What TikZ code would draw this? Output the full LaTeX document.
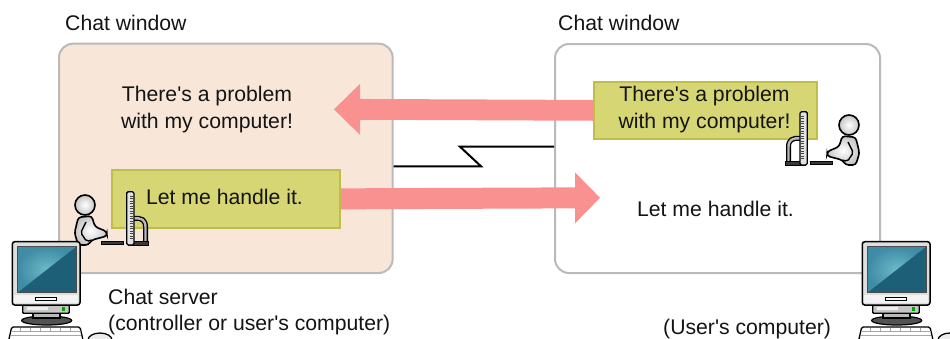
\documentclass[tikz,border=0pt]{standalone}
\usepackage{fontspec}
\setmainfont{Liberation Sans}
\usetikzlibrary{calc}

\definecolor{winpeach}{RGB}{248,231,216}
\definecolor{winframe}{RGB}{186,186,186}
\definecolor{notefill}{RGB}{214,214,117}
\definecolor{noteedge}{RGB}{190,190,72}
\definecolor{flowpink}{RGB}{250,145,145}
\definecolor{scrhi}{RGB}{110,185,200}
\definecolor{scrlight}{RGB}{62,140,165}
\definecolor{scrdark}{RGB}{30,95,120}
\definecolor{casegray}{RGB}{222,222,222}

\newcommand{\apos}{\textquotesingle}

\tikzset{
  lbl/.style={font=\fontsize{21.2}{27}\selectfont, inner sep=0pt, text=black!92},
  chatwin/.style={draw=winframe, line width=2pt, rounded corners=14pt, inner sep=0pt, anchor=north west},
  note/.style={draw=noteedge, fill=notefill, line width=2pt, inner sep=0pt, anchor=north west},
  flow/.style={fill=flowpink},
  wire/.style={line width=2pt, line join=miter},
  % desktop computer: monitor, base unit, keyboard and mouse
  pics/desktop/.style={code={
    \draw[line width=1.3pt, fill=white, rounded corners=1.5pt]
      (11.7,97) -- (80,97) -- (83.5,112) -- (8.3,112) -- cycle;
    \foreach \yy in {101,105}
      \draw[gray!70, line width=0.8pt] (10.8,\yy) -- (81.3,\yy);
    \foreach \xx in {20,30,40,50,60,70}
      \draw[gray!70, line width=0.6pt] (\xx,97.5) -- (\xx,101);
    \draw[line width=1.3pt, fill=gray!15] (100,110) ellipse (12pt and 7pt);
    \draw[line width=1.2pt, fill=gray!65!black] (46.7,90.5) ellipse (25pt and 4.5pt);
    \draw[line width=1.2pt, fill=gray!55] (33,83) rectangle (60,88);
    \draw[line width=1.3pt, fill=gray!45, rounded corners=1pt] (22.7,75) rectangle (69.3,83.3);
    \fill[gray!12] (26.7,77.3) rectangle (48.3,80);
    \fill[green!65!black] (61.7,77.3) rectangle (65,80.7);
    \draw[line width=1.5pt, fill=casegray, rounded corners=2.5pt] (12.3,11.7) rectangle (80,75);
    \fill[gray!10] (14,64.5) rectangle (78.3,73.2);
    \draw[line width=0.6pt, fill=white] (35,67.7) rectangle (56.7,70.7);
    \fill[scrdark] (17.3,16.7) rectangle (76,62.7);
    \shade[inner color=scrhi, outer color=scrlight] (17.3,16.7) -- (76,16.7) -- (17.3,62.7) -- cycle;
    \draw[line width=0.8pt, black!70] (17.3,16.7) rectangle (76,62.7);
  }},
  % seated operator at a monitor seen from the side
  pics/seated/.style={code={
    \draw[line width=5pt] (48,13.5) .. controls (57,12.5) and (60.5,15) .. (60.5,22) -- (60.5,38);
    \draw[line width=2.4pt, gray!55] (48,13.5) .. controls (57,12.5) and (60.5,15) .. (60.5,22) -- (60.5,38);
    \draw[line width=1pt, fill=gray!45!black] (43.3,36.7) rectangle (63.3,40);
    \draw[line width=1pt, fill=gray!45!black] (16.7,36.7) rectangle (38.3,39.3);
    \draw[line width=1.3pt, fill=gray!22, rounded corners=1.5pt] (41.7,-13.3) rectangle (49,40);
    \foreach \t in {-9,-6.5,...,35}
      \draw[line width=0.6pt, gray!55!black] (45.3,\t) -- (48,\t);
    \draw[line width=1.6pt, inner color=white, outer color=gray!45, rounded corners=3pt]
      (-6.7,12.3) -- (6.7,11) -- (10,21.7) -- (21.7,26.5) -- (22,31) -- (6.7,35)
      -- (3.3,40) -- (-6.7,40) -- (-10.5,28) -- cycle;
    \draw[line width=1.4pt, rounded corners=2pt] (1,17) -- (-4.3,27.7) -- (1.7,36.5) -- (6.7,35);
    \draw[line width=1.6pt, inner color=white, outer color=gray!45] (0,0) circle (10pt);
  }},
}

\begin{document}
\begin{tikzpicture}[x=1pt,y=-1pt]
  \useasboundingbox (0,0) rectangle (950,338);
  \clip (0,0) rectangle (950,338);
  \fill[white] (0,0) rectangle (950,338);

  % chat windows
  \node[chatwin, fill=winpeach, minimum width=333.7pt, minimum height=229.3pt] (lwin) at (58,42.7) {};
  \node[chatwin, fill=white, minimum width=325pt, minimum height=229pt] (rwin) at (554,43) {};
  \node[lbl, anchor=base west] (ltitle) at (65,30) {Chat window};
  \node[lbl, anchor=base west] (rtitle) at (558,30) {Chat window};

  % network link between the two computers
  \coordinate (zlow) at (481,166.3);
  \coordinate (zhigh) at (460,146.7);
  \draw[wire] (lwin.east |- zlow) -- (zlow) -- (zhigh) -- (rwin.west |- zhigh);

  % message boxes (placed first so the flows can start from them)
  \node[note, minimum width=222.7pt, minimum height=57.3pt] (rnote) at (593,80.7) {};
  \node[note, minimum width=228.3pt, minimum height=57.7pt] (lnote) at (110.7,169) {};

  % message flows
  \coordinate (ltip) at (334,109.35);
  \coordinate (rtip) at (600,197.85);
  \fill[flow] ([yshift=10.4pt]rnote.west) -- ([xshift=26pt,yshift=10.4pt]ltip)
    -- ([xshift=26pt,yshift=25.5pt]ltip) -- (ltip) -- ([xshift=26pt,yshift=-25.5pt]ltip)
    -- ([xshift=26pt,yshift=-10.4pt]ltip) -- ([yshift=-10.4pt]rnote.west) -- cycle;
  \fill[flow] ([yshift=10.5pt]lnote.east) -- ([xshift=-25pt,yshift=10.5pt]rtip)
    -- ([xshift=-25pt,yshift=25.5pt]rtip) -- (rtip) -- ([xshift=-25pt,yshift=-25.5pt]rtip)
    -- ([xshift=-25pt,yshift=-10.5pt]rtip) -- ([yshift=-10.5pt]lnote.east) -- cycle;
  % redraw the boxes over the flow tails
  \node[note, minimum width=222.7pt, minimum height=57.3pt] at (593,80.7) {};
  \node[note, minimum width=228.3pt, minimum height=57.7pt] at (110.7,169) {};

  % message texts
  \node[lbl, anchor=base] (lmsg1) at (207,101) {There\apos s a problem};
  \node[lbl, anchor=base] (lmsg2) at (207,128.5) {with my computer!};
  \node[lbl, anchor=base] (rmsg1) at (704.5,101) {There\apos s a problem};
  \node[lbl, anchor=base] (rmsg2) at (704.5,128.5) {with my computer!};
  \node[lbl, anchor=base] (lreply) at (224.5,204) {Let me handle it.};
  \node[lbl, anchor=base] (rreply) at (715.5,216) {Let me handle it.};

  % operators
  \pic at (85,205) {seated};
  \pic[xscale=-1] at (849,125) {seated};

  % computers
  \pic at (0,230) {desktop};
  \pic at (850,230) {desktop};

  % captions
  \node[lbl, anchor=base west] (srv1) at (108,304) {Chat server};
  \node[lbl, anchor=base west] (srv2) at (108,330) {(controller or user\apos s computer)};
  \node[lbl, anchor=base west] (usr) at (663,334) {(User\apos s computer)};
\end{tikzpicture}
\end{document}
